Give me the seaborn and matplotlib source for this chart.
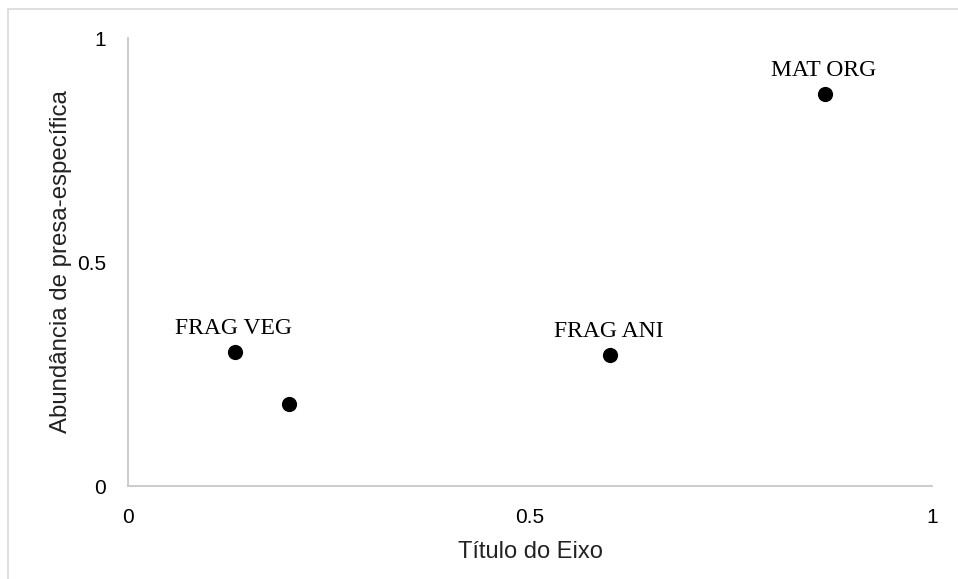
import matplotlib
matplotlib.use("Agg")
import matplotlib.pyplot as plt
import seaborn as sns
import pandas as pd
from matplotlib.patches import Rectangle

# Data
x_vals = [0.133, 0.200, 0.600, 0.867]
y_vals = [0.299, 0.183, 0.292, 0.875]
point_labels = ["FRAG VEG", "", "FRAG ANI", "MAT ORG"]
x_ticks = [0, 0.5, 1]
x_tick_labels = ["0", "0.5", "1"]
y_ticks = [0, 0.5, 1]
y_tick_labels = ["0", "0.5", "1"]
x_title = "Título do Eixo"
y_title = "Abundância de presa-específica"

df = pd.DataFrame({"x": x_vals, "y": y_vals, "label": point_labels})

sns.set_theme(style="white")
plt.rcParams["font.family"] = ["Liberation Sans", "DejaVu Sans"]

W, H = 958, 579
fig = plt.figure(figsize=(W / 100, H / 100), dpi=100)
ax = fig.add_axes([128 / W, (H - 486) / H, (932 - 128) / W, (486 - 38) / H])

sns.scatterplot(data=df, x="x", y="y", ax=ax, color="black", s=120,
                edgecolor="black", linewidth=0, legend=False, zorder=3)

for _, r in df.iterrows():
    if r["label"]:
        ax.annotate(r["label"], (r["x"], r["y"]), xytext=(-1, 17),
                    textcoords="offset points", ha="center", va="center",
                    fontsize=17, family=["Liberation Serif", "DejaVu Serif"],
                    color="black")

ax.set_xlim(0, 1)
ax.set_ylim(0, 1)
ax.set_xticks(x_ticks)
ax.set_xticklabels(x_tick_labels)
ax.set_yticks(y_ticks)
ax.set_yticklabels(y_tick_labels)
ax.tick_params(axis="both", length=0, pad=16, labelsize=15, colors="black")
ax.set_xlabel(x_title, fontsize=17, color="#222222", labelpad=10)
ax.set_ylabel(y_title, fontsize=17.3, color="#222222", labelpad=3)

for s in ["top", "right"]:
    ax.spines[s].set_visible(False)
for s in ["left", "bottom"]:
    ax.spines[s].set_color("#c8c8c8")
    ax.spines[s].set_linewidth(1.3)
ax.grid(False)

# outer chart frame (top and left edges visible)
fig.patches.append(Rectangle((7.5 / W, -0.1), 1.2, 1 - 8.5 / H + 0.1,
                             transform=fig.transFigure, fill=False,
                             edgecolor="#d9d9d9", linewidth=1.2))

fig.savefig("out.png", dpi=100)
